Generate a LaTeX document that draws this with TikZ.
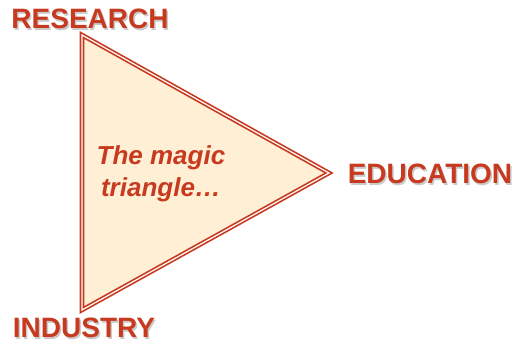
\documentclass[tikz,border=0pt]{standalone}
\usepackage{fontspec}
\setmainfont{Liberation Sans}
\usepackage{tikz}
\usetikzlibrary{positioning}
\definecolor{magicred}{RGB}{200,58,32}
\definecolor{magicfill}{RGB}{255,239,212}
\tikzset{
  corner/.style={font=\fontsize{28}{30}\selectfont\bfseries, text=magicred, inner sep=0pt},
  cornershade/.style={corner, text=black!35, opacity=0.6}
}

\begin{document}
\begin{tikzpicture}[
        x=1pt, y=1pt,
        magic/.style={draw=magicred, double=white, double distance=1.2pt, line width=1.7pt, fill=magicfill, line join=miter},
        note/.style={font=\fontsize{26}{32}\selectfont\bfseries\itshape, text=magicred, align=center, inner sep=0pt}
    ]
        \useasboundingbox (0,0) rectangle (515,344);

        % The triangle
        \coordinate (top) at (82,309);
        \coordinate (tip) at (329,171);
        \coordinate (bottom) at (82,34);
        \filldraw[magic] (top) -- (tip) -- (bottom) -- cycle;

        % Shadows of the corner labels
        \node[cornershade] (researchs) at (91.5,323.5) {RESEARCH};
        \node[cornershade] (educations) at (431.5,168.5) {EDUCATION};
        \node[cornershade] (industrys) at (85.5,14.5) {INDUSTRY};

        % Corner labels
        \node[corner] (research) at (90,325) {RESEARCH};
        \node[corner] (education) at (430,170) {EDUCATION};
        \node[corner] (industry) at (84,16) {INDUSTRY};

        % Text inside
        \node[note] (magictext) at (161,170) {The magic\\triangle\dots};
    \end{tikzpicture}
\end{document}
